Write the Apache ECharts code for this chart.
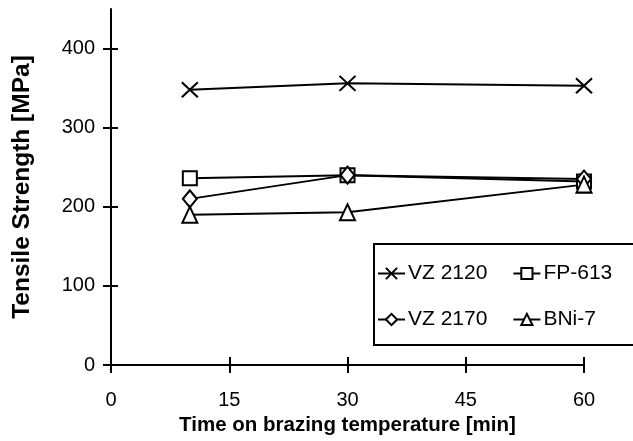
<!DOCTYPE html>
<html>
<head>
<meta charset="utf-8">
<script src="https://cdn.jsdelivr.net/npm/echarts@6/dist/echarts.min.js"></script>
<style>
  html, body { margin: 0; padding: 0; background: #fff; }
  #chart { width: 633px; height: 441px; }
</style>
</head>
<body>
<div id="chart"></div>
<script>
const times = [10, 30, 60];
const vz2120 = [348, 356, 353];
const fp613 = [236, 240, 232];
const vz2170 = [210, 240, 235];
const bni7 = [190, 193, 228];
const seriesNames = ['VZ 2120', 'FP-613', 'VZ 2170', 'BNi-7'];
const yTicks = [0, 100, 200, 300, 400];
const xTicks = [0, 15, 30, 45, 60];

const FONT = 'Liberation Sans, Arial, sans-serif';
const pts = arr => times.map((t, i) => [t, arr[i]]);

const base = {
  type: 'line',
  showSymbol: true,
  lineStyle: { color: '#000', width: 2 },
  itemStyle: { color: '#fff', borderColor: '#000', borderWidth: 2 },
  emphasis: { disabled: true }
};

const chart = echarts.init(document.getElementById('chart'));
chart.setOption({
  animation: false,
  backgroundColor: '#fff',
  textStyle: { fontFamily: FONT },
  grid: { left: 111, right: 49, top: 9, bottom: 76, containLabel: false },
  legend: {
    data: seriesNames,
    left: 374, top: 244, width: 250,
    orient: 'horizontal',
    padding: [19, 40, 15, 3],
    itemGap: 25,
    itemWidth: 27, itemHeight: 14,
    borderColor: '#000', borderWidth: 2,
    textStyle: { fontSize: 21, color: '#000', fontFamily: FONT, padding: [0, 0, 0, -2] }
  },
  xAxis: [{
    type: 'value', min: 0, max: 60, interval: 15,
    name: 'Time on brazing temperature [min]',
    nameLocation: 'middle', nameGap: 50,
    nameTextStyle: { fontSize: 20.5, fontWeight: 'bold', color: '#000', fontFamily: FONT },
    axisLine: { show: true, lineStyle: { color: '#000', width: 2 } },
    axisTick: { show: true, inside: false, length: 8, lineStyle: { color: '#000', width: 2 } },
    axisLabel: { fontSize: 20, color: '#000', margin: 25, fontFamily: FONT },
    splitLine: { show: false }
  }, {
    type: 'value', min: 0, max: 60, interval: 15, position: 'bottom', offset: 0,
    axisLine: { show: false },
    axisTick: { show: true, inside: true, length: 8, lineStyle: { color: '#000', width: 2 } },
    axisLabel: { show: false },
    splitLine: { show: false }
  }],
  yAxis: [{
    type: 'value', min: 0, max: 450, interval: 100,
    name: 'Tensile Strength [MPa]',
    nameLocation: 'middle', nameGap: 76,
    nameTextStyle: { fontSize: 24.5, fontWeight: 'bold', color: '#000', fontFamily: FONT },
    axisLine: { show: true, lineStyle: { color: '#000', width: 2 } },
    axisTick: { show: true, inside: false, length: 8, customValues: yTicks, lineStyle: { color: '#000', width: 2 } },
    axisLabel: { fontSize: 20, color: '#000', margin: 16, customValues: yTicks, fontFamily: FONT },
    splitLine: { show: false }
  }, {
    type: 'value', min: 0, max: 450, interval: 100, position: 'left', offset: 0,
    axisLine: { show: false },
    axisTick: { show: true, inside: true, length: 7, customValues: yTicks, lineStyle: { color: '#000', width: 2 } },
    axisLabel: { show: false },
    splitLine: { show: false }
  }],
  series: [
    Object.assign({}, base, { name: seriesNames[0], data: pts(vz2120), symbol: 'path://M0,0L10,10M10,0L0,10', symbolSize: [16, 15] }),
    Object.assign({}, base, { name: seriesNames[1], data: pts(fp613), symbol: 'rect', symbolSize: 14 }),
    Object.assign({}, base, { name: seriesNames[2], data: pts(vz2170), symbol: 'diamond', symbolSize: [14, 17] }),
    Object.assign({}, base, { name: seriesNames[3], data: pts(bni7), symbol: 'triangle', symbolSize: [15, 16] })
  ]
});
</script>
</body>
</html>
